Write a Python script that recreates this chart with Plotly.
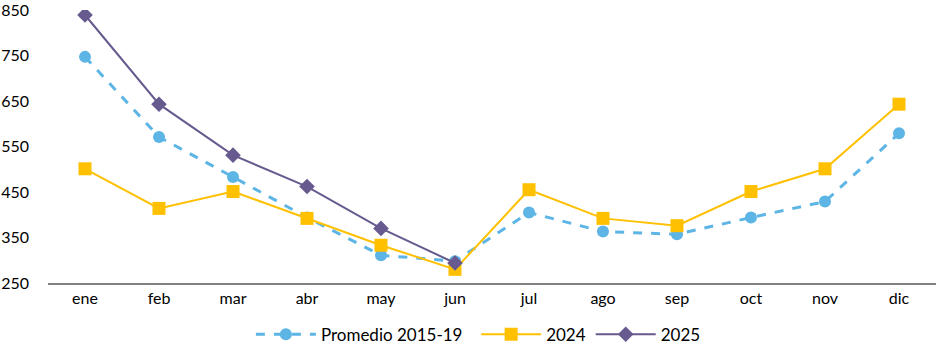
import plotly.graph_objects as go

meses = ["ene", "feb", "mar", "abr", "may", "jun", "jul", "ago", "sep", "oct", "nov", "dic"]
promedio = [747, 571, 483, 394, 311, 298, 405, 363, 357, 394, 429, 579]
v2024 = [501, 414, 451, 392, 333, 280, 455, 392, 376, 451, 501, 643]
v2025 = [839, 643, 531, 462, 370, 294]
yticks = [250, 350, 450, 550, 650, 750, 850]

fig = go.Figure()
fig.add_trace(go.Scatter(x=meses, y=promedio, name="Promedio 2015-19\u00a0\u00a0", mode="lines+markers",
                         line=dict(color="#5DB5E5", width=3, dash="dash"),
                         marker=dict(symbol="circle", size=12, color="#5DB5E5")))
fig.add_trace(go.Scatter(x=meses, y=v2024, name="2024", mode="lines+markers",
                         line=dict(color="#FFC000", width=2),
                         marker=dict(symbol="square", size=13, color="#FFC000")))
fig.add_trace(go.Scatter(x=meses[:len(v2025)], y=v2025, name="2025", mode="lines+markers",
                         line=dict(color="#675A8E", width=2),
                         marker=dict(symbol="diamond", size=12, color="#675A8E")))

fig.update_layout(
    width=938, height=345,
    margin=dict(l=48, r=2, t=10, b=62, autoexpand=False),
    paper_bgcolor="white", plot_bgcolor="white",
    font=dict(family="Lato, Open Sans, sans-serif", size=16, color="#000000"),
    showlegend=True,
    legend=dict(orientation="h", x=0.51, xanchor="center", xref="container",
                y=0.03, yanchor="middle", yref="container",
                font=dict(size=17), itemwidth=60),
    xaxis=dict(type="category", showgrid=False, showline=True, linecolor="#808080", linewidth=2,
               ticks="", range=[-0.5, 11.5], fixedrange=True),
    yaxis=dict(range=[250, 850], tickvals=yticks, showgrid=False, zeroline=False,
               showline=False, ticks="", ticklabelstandoff=18, ticklabeloverflow="allow"),
)
fig.write_html("out.html")
